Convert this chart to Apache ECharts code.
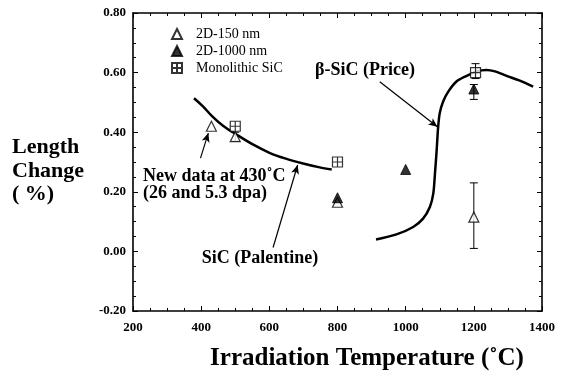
<!DOCTYPE html>
<html><head><meta charset="utf-8">
<script src="https://cdn.jsdelivr.net/npm/echarts@6/dist/echarts.min.js"></script>
<style>html,body{margin:0;padding:0;background:#fff}#c{width:567px;height:373px}</style>
</head><body><div id="c"></div>
<script>
// ---- data ----
var xTicks = [200, 400, 600, 800, 1000, 1200, 1400];
var yTicks = [-0.20, 0.00, 0.20, 0.40, 0.60, 0.80];
var open150 = [[430, 0.42], [500, 0.385], [800, 0.165], [1200, 0.115]];
var filled1000 = [[800, 0.18], [1000, 0.275], [1200, 0.545]];
var monolithic = [[500, 0.42], [800, 0.30], [1205, 0.60]];
var errorBars = [[500, 0.37, 0.40], [1200, 0.01, 0.23], [1200, 0.51, 0.56], [1205, 0.58, 0.63]];
var palentine = [[379, 0.514], [406, 0.486], [431, 0.455], [465, 0.421], [504, 0.392], [553, 0.358], [602, 0.330], [646, 0.312], [699, 0.295], [748, 0.282], [783, 0.275]];
var price = [[913, 0.04], [973, 0.057], [1022, 0.082], [1051, 0.110], [1071, 0.149], [1081, 0.194], [1086, 0.262], [1091, 0.340], [1095, 0.413], [1100, 0.464], [1110, 0.503], [1125, 0.536], [1149, 0.570], [1179, 0.589], [1208, 0.604], [1237, 0.609], [1262, 0.604], [1296, 0.589], [1335, 0.573], [1374, 0.553]];
var arrows = [
  [[924, 0.569], [1093, 0.418]],
  [[398, 0.313], [421, 0.397]],
  [[611, 0.013], [683, 0.29]]
];
var serif = '"Liberation Serif","Times New Roman",serif';
var boxCross = 'path://M0 0H10V10H0ZM5 0V10M0 5H10';

var chart = echarts.init(document.getElementById('c'));
var axisCommon = {
  axisLine: {onZero: false, lineStyle: {color: '#000', width: 1.6}},
  axisTick: {inside: true, length: 5, lineStyle: {color: '#000'}},
  minorTick: {show: true, splitNumber: 4, length: 3, lineStyle: {color: '#000'}},
  splitLine: {show: false}
};
chart.setOption({
  animation: false,
  backgroundColor: '#fff',
  grid: {left: 133, right: 25, top: 13, bottom: 62},
  legend: {
    left: 166, top: 21, orient: 'vertical', itemGap: 1, itemWidth: 10, itemHeight: 10,
    textStyle: {fontFamily: serif, fontSize: 14, lineHeight: 16, color: '#000', padding: [0, 0, 0, 9]},
    data: ['2D-150 nm', '2D-1000 nm', 'Monolithic SiC']
  },
  xAxis: [
    Object.assign({type: 'value', min: xTicks[0], max: xTicks[xTicks.length - 1], interval: 200,
      axisLabel: {fontFamily: serif, fontWeight: 'bold', fontSize: 13, color: '#000', margin: 10,
        formatter: function (v) { return String(v); }}}, axisCommon),
    Object.assign({type: 'value', position: 'top', min: xTicks[0], max: xTicks[xTicks.length - 1], interval: 200,
      axisLabel: {show: false}}, axisCommon)
  ],
  yAxis: [
    Object.assign({type: 'value', min: yTicks[0], max: yTicks[yTicks.length - 1], interval: 0.2,
      axisLabel: {fontFamily: serif, fontWeight: 'bold', fontSize: 13, color: '#000', margin: 7,
        formatter: function (v) { return v.toFixed(2); }}}, axisCommon),
    Object.assign({type: 'value', position: 'right', min: yTicks[0], max: yTicks[yTicks.length - 1], interval: 0.2,
      axisLabel: {show: false}}, axisCommon)
  ],
  series: [
    {type: 'line', data: palentine, smooth: 0.3, symbol: 'none',
      lineStyle: {color: '#000', width: 2.5}, silent: true, z: 2,
      markLine: {silent: true, symbol: ['none', 'arrow'], symbolSize: [6, 9], label: {show: false},
        lineStyle: {color: '#000', width: 1.2, type: 'solid'},
        data: arrows.map(function (a) { return [{coord: a[0]}, {coord: a[1]}]; })}},
    {type: 'line', data: price, smooth: 0.3, symbol: 'none',
      lineStyle: {color: '#000', width: 2.5}, silent: true, z: 2},
    {type: 'custom', data: errorBars, z: 3,
      renderItem: function (params, api) {
        var x = api.value(0);
        var lo = api.coord([x, api.value(1)]);
        var hi = api.coord([x, api.value(2)]);
        var w = 4;
        var st = {stroke: '#000', lineWidth: 1};
        return {type: 'group', children: [
          {type: 'line', shape: {x1: lo[0], y1: lo[1], x2: hi[0], y2: hi[1]}, style: st},
          {type: 'line', shape: {x1: lo[0] - w, y1: lo[1], x2: lo[0] + w, y2: lo[1]}, style: st},
          {type: 'line', shape: {x1: hi[0] - w, y1: hi[1], x2: hi[0] + w, y2: hi[1]}, style: st}
        ]};
      }},
    {name: '2D-150 nm', type: 'scatter', data: open150, symbol: 'triangle', symbolSize: 10, z: 4,
      itemStyle: {color: '#fff', borderColor: '#000', borderWidth: 1.2}},
    {name: 'Monolithic SiC', type: 'scatter', data: monolithic, symbol: boxCross, symbolSize: 10, z: 4,
      itemStyle: {color: '#fff', borderColor: '#000', borderWidth: 1.2}},
    {name: '2D-1000 nm', type: 'scatter', data: filled1000, symbol: 'triangle', symbolSize: 10, z: 5,
      itemStyle: {color: '#000', borderColor: '#000', borderWidth: 1}}
  ],
  graphic: [
    {type: 'text', x: 12, y: 136, style: {text: 'Length\nChange\n( %)', fontFamily: serif, fontWeight: 'bold', fontSize: 22, lineHeight: 23.5, fill: '#000', textAlign: 'left', textVerticalAlign: 'top'}},
    {type: 'text', x: 367, y: 359, style: {text: 'Irradiation Temperature (˚C)', fontFamily: serif, fontWeight: 'bold', fontSize: 25, fill: '#000', textAlign: 'center', textVerticalAlign: 'middle'}},
    {type: 'text', x: 315, y: 70, style: {text: 'β-SiC (Price)', fontFamily: serif, fontWeight: 'bold', fontSize: 18, fill: '#000', textVerticalAlign: 'middle'}},
    {type: 'text', x: 143, y: 168, style: {text: 'New data at 430˚C\n(26 and 5.3 dpa)', fontFamily: serif, fontWeight: 'bold', fontSize: 18, lineHeight: 17, fill: '#000', textAlign: 'left', textVerticalAlign: 'top'}},
    {type: 'text', x: 260, y: 258, style: {text: 'SiC (Palentine)', fontFamily: serif, fontWeight: 'bold', fontSize: 18, fill: '#000', textAlign: 'center', textVerticalAlign: 'middle'}}
  ]
});
</script></body></html>
